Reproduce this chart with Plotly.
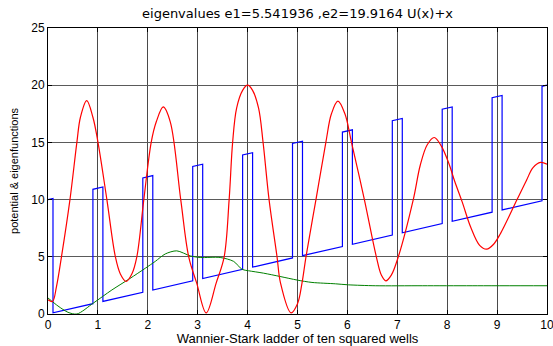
import plotly.graph_objects as go

# Potential U(x)+x : breakpoints of the ten squared wells
pot_x = [0, 0.1, 0.1, 0.9, 0.9, 1.1, 1.1, 1.9, 1.9, 2.1, 2.1, 2.9, 2.9, 3.1, 3.1, 3.9, 3.9, 4.1, 4.1,
         4.9, 4.9, 5.1, 5.1, 5.9, 5.9, 6.1, 6.1, 6.9, 6.9, 7.1, 7.1, 7.9, 7.9, 8.1, 8.1, 8.9, 8.9,
         9.1, 9.1, 9.9, 9.9, 10]
pot_y = [10, 10.1, 0.1, 0.9, 10.9, 11.1, 1.1, 1.9, 11.9, 12.1, 2.1, 2.9, 12.9, 13.1, 3.1, 3.9, 13.9,
         14.1, 4.1, 4.9, 14.9, 15.1, 5.1, 5.9, 15.9, 16.1, 6.1, 6.9, 16.9, 17.1, 7.1, 7.9, 17.9, 18.1,
         8.1, 8.9, 18.9, 19.1, 9.1, 9.9, 19.9, 20]

# Second eigenfunction (red)
red_x = [0, 0.09, 0.17, 0.27, 0.44, 0.58, 0.65, 0.776, 0.90, 1.0, 1.18, 1.35, 1.45, 1.565, 1.68,
         1.78, 1.92, 2.07, 2.17, 2.31, 2.45, 2.66, 2.82, 2.98, 3.17, 3.37, 3.53, 3.63, 3.70, 3.78,
         3.90, 4.0, 4.10, 4.22, 4.31, 4.43, 4.59, 4.66, 4.87, 5.0, 5.09, 5.17, 5.37, 5.57, 5.68,
         5.81, 5.95, 6.08, 6.34, 6.58, 6.68, 6.77, 6.88, 7.02, 7.32, 7.46, 7.6, 7.74, 7.88, 8.03,
         8.15, 8.3, 8.47, 8.65, 8.79, 8.93, 9.07, 9.4, 9.59, 9.72, 9.87, 10]
red_y = [1.25, 1.1, 2.4, 5.0, 10.0, 15.05, 17.2, 18.65, 17.2, 15.05, 10.0, 5.0, 3.5, 2.85, 3.5,
         5.0, 10.0, 15.05, 16.8, 18.1, 16.8, 10.0, 5.0, 2.7, 0.1, 2.7, 5.0, 10.0, 15.0, 18.0,
         19.55, 20.0, 19.55, 18.0, 15.0, 10.0, 5.0, 2.7, 0.1, 0.9, 2.7, 5.0, 10.0, 15.05, 17.5,
         18.6, 17.5, 15.05, 10.0, 5.0, 3.4, 2.9, 3.4, 5.0, 10.0, 13.0, 14.8, 15.43, 14.7, 13.2,
         11.6, 9.8, 7.6, 6.0, 5.67, 6.1, 7.05, 10.0, 11.7, 12.8, 13.25, 13.1]

# First eigenfunction (green)
green_x = [0, 0.2, 0.4, 0.58, 0.91, 1.28, 1.64, 1.95, 2.15, 2.35, 2.58, 2.85, 3.05, 3.45, 3.72, 3.89,
           4.02, 4.32, 4.65, 5.0, 5.29, 5.76, 6.02, 6.56, 7.5, 8.5, 10]
green_y = [1.4, 0.7, 0.15, 0.0, 0.96, 2.1, 3.1, 4.0, 4.6, 5.25, 5.52, 5.08, 4.94, 4.94, 4.6, 3.9,
           3.78, 3.57, 3.28, 2.96, 2.76, 2.64, 2.55, 2.47, 2.47, 2.47, 2.47]

x_ticks = [0, 1, 2, 3, 4, 5, 6, 7, 8, 9, 10]
y_ticks = [0, 5, 10, 15, 20, 25]

title_text = "eigenvalues e1=5.541936 ,e2=19.9164 U(x)+x"
x_label = "Wannier-Stark ladder of ten squared wells"
y_label = "potential & eigenfunctions"

fig = go.Figure()
fig.add_trace(go.Scatter(x=pot_x, y=pot_y, mode="lines", line=dict(color="#0000ff", width=1.2),
                         showlegend=False))
fig.add_trace(go.Scatter(x=green_x, y=green_y, mode="lines",
                         line=dict(color="#008000", width=1, shape="spline", smoothing=0.8),
                         showlegend=False))
fig.add_trace(go.Scatter(x=red_x, y=red_y, mode="lines",
                         line=dict(color="#ff0000", width=1.2, shape="spline", smoothing=1.0),
                         showlegend=False))

font_family = "Liberation Sans, Arial, sans-serif"
fig.update_layout(
    width=553, height=346,
    margin=dict(l=48, r=6, t=28, b=32, autoexpand=False),
    paper_bgcolor="white", plot_bgcolor="white",
    title=dict(text=title_text, x=0.538, xanchor="center", y=0.962, yanchor="middle",
               font=dict(family="DejaVu Sans, sans-serif", size=13, color="black")),
    font=dict(family=font_family, size=12, color="black"),
)
fig.update_xaxes(range=[0, 10], tickvals=x_ticks, ticktext=[str(t) for t in x_ticks],
                 showgrid=True, gridcolor="#4a4a4a", gridwidth=1,
                 showline=True, linecolor="black", linewidth=1, mirror="ticks",
                 ticks="inside", ticklen=4, tickcolor="black", zeroline=False, automargin=False,
                 ticklabeloverflow="allow",
                 title=dict(text=x_label, font=dict(size=13), standoff=3),
                 tickfont=dict(size=12))
fig.update_yaxes(range=[0, 25], tickvals=y_ticks, ticktext=[str(t) for t in y_ticks],
                 showgrid=True, gridcolor="#5a5a5a", gridwidth=1,
                 showline=True, linecolor="black", linewidth=1, mirror="ticks",
                 ticks="inside", ticklen=4, tickcolor="black", zeroline=False, automargin=False,
                 title=dict(text=y_label, font=dict(size=11), standoff=10),
                 tickfont=dict(size=12))

fig.write_html("out.html")
